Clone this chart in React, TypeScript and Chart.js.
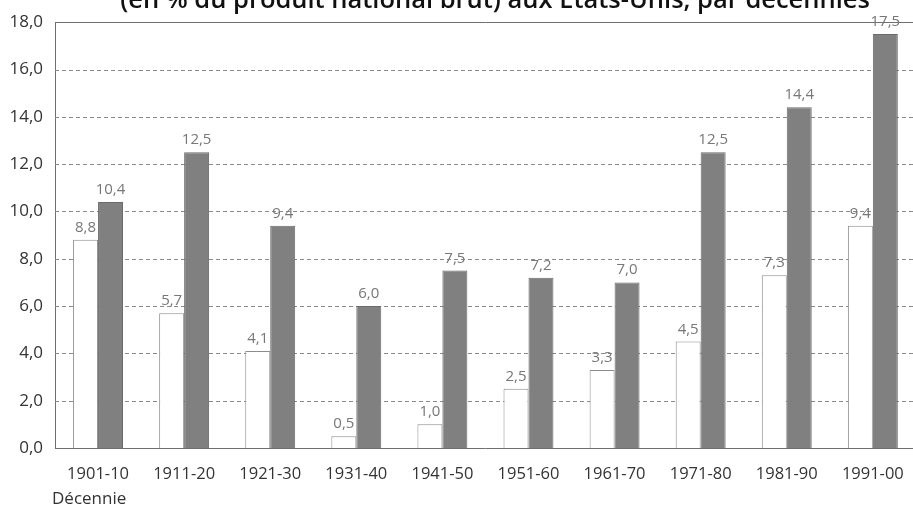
import React, { useEffect, useRef } from "react";
import { Chart, registerables } from "chart.js";

Chart.register(...registerables);

const decades = ["1901-10", "1911-20", "1921-30", "1931-40", "1941-50", "1951-60", "1961-70", "1971-80", "1981-90", "1991-00"];
const seriesWhite = [8.8, 5.7, 4.1, 0.5, 1.0, 2.5, 3.3, 4.5, 7.3, 9.4];
const seriesGray = [10.4, 12.5, 9.4, 6.0, 7.5, 7.2, 7.0, 12.5, 14.4, 17.5];
const yTicks = [0, 2, 4, 6, 8, 10, 12, 14, 16, 18];
const titleText = "(en % du produit national brut) aux États-Unis, par décennies";
const xAxisTitle = "Décennie";

const FONT = "'Open Sans', 'Noto Sans', sans-serif";
const fmt = (v: number) => v.toFixed(1).replace(".", ",");

const customPlugin = {
  id: "custom",
  beforeDatasetsDraw(chart: any) {
    const { ctx, chartArea, scales } = chart;
    const y = scales.y;
    ctx.save();
    ctx.lineWidth = 1;
    yTicks.forEach((t) => {
      if (t === 0) return;
      const py = Math.round(y.getPixelForValue(t)) + 0.5;
      if (t === 18) {
        ctx.setLineDash([]);
        ctx.strokeStyle = "#6f6f6f";
      } else {
        ctx.setLineDash([4, 3]);
        ctx.strokeStyle = "#8a8a8a";
      }
      ctx.beginPath();
      ctx.moveTo(chartArea.left, py);
      ctx.lineTo(chartArea.right, py);
      ctx.stroke();
    });
    ctx.restore();
  },
  afterDatasetsDraw(chart: any) {
    const { ctx } = chart;
    ctx.save();
    ctx.font = `15px ${FONT}`;
    ctx.fillStyle = "#777";
    ctx.textAlign = "center";
    ctx.textBaseline = "alphabetic";
    chart.data.datasets.forEach((ds: any, di: number) => {
      const meta = chart.getDatasetMeta(di);
      meta.data.forEach((bar: any, i: number) => {
        const v = ds.data[i];
        ctx.fillText(fmt(v), bar.x, bar.y - 8);
      });
    });
    ctx.restore();
  },
  afterDraw(chart: any) {
    const { ctx } = chart;
    ctx.save();
    ctx.font = `600 20px ${FONT}`;
    const w = ctx.measureText(titleText).width;
    const size = 20 * (750 / w);
    ctx.font = `600 ${size.toFixed(2)}px ${FONT}`;
    ctx.fillStyle = "#111";
    ctx.textAlign = "center";
    ctx.textBaseline = "alphabetic";
    ctx.fillText(titleText, 495, 8);
    ctx.font = `17px ${FONT}`;
    ctx.fillStyle = "#333";
    ctx.textAlign = "left";
    ctx.textBaseline = "middle";
    ctx.fillText(xAxisTitle, 52, 499);
    ctx.restore();
  },
};

export default function App() {
  const ref = useRef<HTMLCanvasElement | null>(null);
  useEffect(() => {
    document.body.style.margin = "0";
    const canvas = ref.current;
    if (!canvas) return;
    const chart = new Chart(canvas, {
      type: "bar",
      data: {
        labels: decades,
        datasets: [
          {
            data: seriesWhite,
            backgroundColor: "#ffffff",
            borderColor: "#8c8c8c",
            borderWidth: 1,
          },
          {
            data: seriesGray,
            backgroundColor: "#808080",
            borderColor: "#6a6a6a",
            borderWidth: 1,
          },
        ],
      },
      options: {
        animation: false,
        responsive: false,
        maintainAspectRatio: false,
        layout: { padding: { top: 22, right: 4, left: 0, bottom: 0 } },
        plugins: {
          legend: { display: false },
          tooltip: { enabled: false },
          title: { display: false },
        },
        datasets: {
          bar: { barPercentage: 1, categoryPercentage: 0.58 },
        },
        scales: {
          x: {
            grid: { display: false, drawTicks: false },
            border: { display: true, color: "#6f6f6f", width: 1 },
            ticks: {
              color: "#333",
              font: { family: FONT, size: 16.5 },
              padding: 16,
              maxRotation: 0,
              autoSkip: false,
            },
            afterFit: (s: any) => {
              s.height = 59;
            },
          },
          y: {
            min: 0,
            max: 18,
            afterBuildTicks: (s: any) => {
              s.ticks = yTicks.map((v) => ({ value: v }));
            },
            grid: { display: false, drawTicks: false },
            border: { display: true, color: "#6f6f6f", width: 1 },
            ticks: {
              color: "#333",
              font: { family: FONT, size: 17 },
              padding: 12,
              callback: (v: any) => fmt(Number(v)),
            },
            afterFit: (s: any) => {
              s.width = 55;
            },
          },
        },
      },
      plugins: [customPlugin],
    });
    return () => chart.destroy();
  }, []);
  return (
    <div style={{ position: "fixed", left: 0, top: 0, width: 913, height: 507, overflow: "hidden", background: "#fff" }}>
      <canvas ref={ref} width={920} height={507} style={{ display: "block" }} />
    </div>
  );
}
